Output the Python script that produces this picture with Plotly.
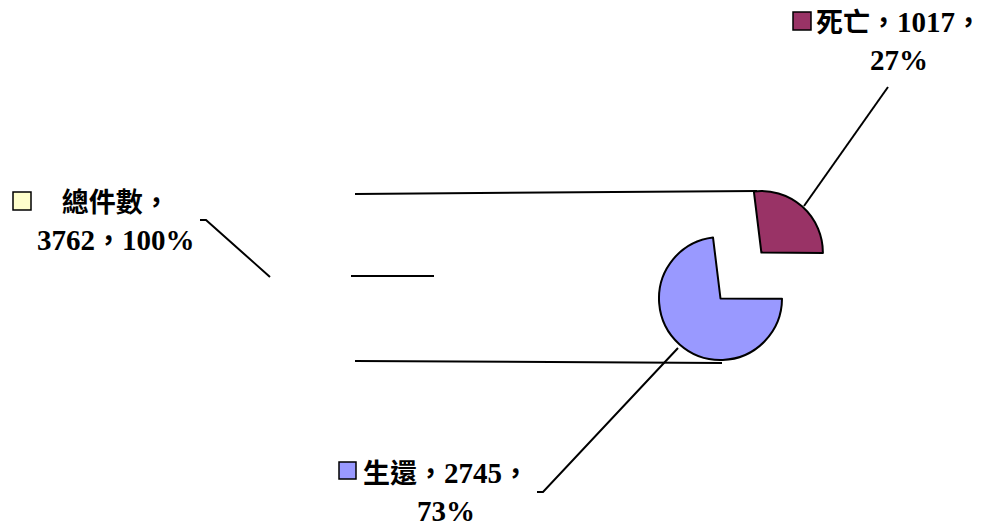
import plotly.graph_objects as go

# ---- data ----
total_label = "總件數"
total_value = 3762
categories = ["死亡", "生還"]
values = [1017, 2745]
colors = ["#993366", "#9999FF"]
total_color = "#FFFFCC"

W, H = 984, 527


def px(x):
    return x / W


def py(y):
    return 1 - y / H


def cjk(s):
    return f'<span style="font-size:27px">{s}</span>'


def label(name, v, break_after_name=False):
    pct = round(v / total_value * 100)
    sep = cjk("，")
    if break_after_name:
        return f"<b>{cjk(name)}{sep}<br>{v}{sep}{pct}%</b>"
    return f"<b>{cjk(name)}{sep}{v}{sep}<br>{pct}%</b>"


# pie placement (pixels): centre of the un-pulled slice and radius
pcx, pcy, pr = 720.5, 298.5, 61.5
half = 2 * pr  # pull=1 halves the radius

fig = go.Figure()
fig.add_trace(go.Pie(
    labels=categories,
    values=values,
    sort=False,
    direction="clockwise",
    rotation=-7,
    pull=[1.0, 0.0],
    marker=dict(colors=colors, line=dict(color="black", width=2)),
    textinfo="none",
    hoverinfo="label+value+percent",
    showlegend=False,
    domain=dict(x=[px(pcx - half), px(pcx + half)],
                y=[py(pcy + half), py(pcy - half)]),
))

font = dict(family="Liberation Serif, Noto Sans CJK TC, serif", size=29, color="black")

anns = []
shapes = []

label_specs = [
    (total_label, total_value, total_color, (116, 222), (13, 192, 31, 210), True),
    (categories[0], values[0], colors[0], (899, 41), (793, 12, 811, 30), False),
    (categories[1], values[1], colors[1], (446, 492), (339, 462, 356, 479), False),
]
for name, v, col, (cx, cy), (x0, y0, x1, y1), brk in label_specs:
    anns.append(dict(
        x=px(cx), y=py(cy), xref="paper", yref="paper",
        text=label(name, v, brk), showarrow=False, align="center",
        xanchor="center", yanchor="middle", font=font,
    ))
    shapes.append(dict(type="rect", xref="paper", yref="paper",
                       x0=px(x0), x1=px(x1), y0=py(y1), y1=py(y0),
                       fillcolor=col, line=dict(color="black", width=1.5)))

leaders = [
    [(200, 220), (206, 220), (270, 277)],
    [(888, 87), (804, 206)],
    [(537, 492), (543, 492), (678, 348)],
    # outline remnants of the total slice
    [(355, 194), (757, 191)],
    [(351, 276), (434, 276)],
    [(355, 361), (722, 363)],
]
for pts in leaders:
    path = "M " + " L ".join(f"{px(x)},{py(y)}" for x, y in pts)
    shapes.append(dict(type="path", xref="paper", yref="paper", path=path,
                       line=dict(color="black", width=2)))

fig.update_layout(
    width=W, height=H,
    margin=dict(l=0, r=0, t=0, b=0),
    paper_bgcolor="white", plot_bgcolor="white",
    annotations=anns, shapes=shapes,
)

fig.write_html(
    "out.html",
    config={"displayModeBar": False},
    post_script="document.body.style.margin='0';document.body.style.overflow='hidden';",
)
